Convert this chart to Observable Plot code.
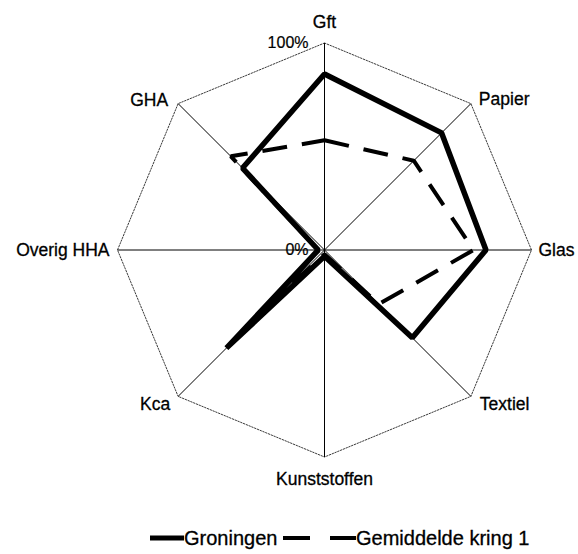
<!DOCTYPE html>
<html>
<head>
<meta charset="utf-8">
<script src="https://cdn.jsdelivr.net/npm/d3@7"></script>
<script src="https://cdn.jsdelivr.net/npm/@observablehq/plot@0.6"></script>
<style>
  html, body { margin: 0; padding: 0; background: #fff; }
  body { width: 578px; height: 554px; overflow: hidden; font-family: "Liberation Sans", Arial, sans-serif; }
  #legend { position: relative; height: 34px; }
  .item { position: absolute; top: 6px; font-size: 20px; line-height: 24px; color: #000; white-space: nowrap; -webkit-text-stroke: 0.3px #000; }
  .item svg { vertical-align: middle; position: relative; top: -2px; }
</style>
</head>
<body>
<div id="chart"></div>
<div id="legend"></div>
<script>
// ---- data ----
const categories = ["Gft", "Papier", "Glas", "Textiel", "Kunststoffen", "Kca", "Overig HHA", "GHA"];
const groningen  = [0.85, 0.80, 0.78, 0.60, 0.03, 0.67, 0.03, 0.56];
const gemiddelde = [0.53, 0.61, 0.72, 0.37, 0.02, 0.35, 0.03, 0.64];
const tickValues = [0, 1];
const tickLabels = ["0%", "100%"];
const seriesNames = ["Groningen", "Gemiddelde kring 1"];

// ---- geometry helpers ----
const n = categories.length;
const ang = i => (i / n) * 2 * Math.PI; // clockwise from top
const pt = (v, i) => ({x: v * Math.sin(ang(i)), y: v * Math.cos(ang(i)), cat: categories[i], v});
const vertices = categories.map((c, i) => pt(1, i));
const gronPts = groningen.map((v, i) => pt(v, i));
const gemPts = gemiddelde.map((v, i) => pt(v, i));
const ticks = tickValues.map((v, i) => ({v, label: tickLabels[i]}));

// label placement (layout only)
const labelLayout = {
  "Gft":          {anchor: "middle", dx: 0,   dy: -21},
  "Papier":       {anchor: "start",  dx: 8,   dy: -4},
  "Glas":         {anchor: "start",  dx: 7,   dy: 0},
  "Textiel":      {anchor: "start",  dx: 9,   dy: 8},
  "Kunststoffen": {anchor: "middle", dx: 0,   dy: 22},
  "Kca":          {anchor: "end",    dx: -8,  dy: 8},
  "Overig HHA":   {anchor: "end",    dx: -8,  dy: 0},
  "GHA":          {anchor: "end",    dx: -10, dy: -3}
};

const labelMarks = vertices.map(d => {
  const L = labelLayout[d.cat];
  return Plot.text([d], {x: "x", y: "y", text: "cat", textAnchor: L.anchor, dx: L.dx, dy: L.dy,
    fontSize: 17.5, fill: "black", stroke: "black", strokeWidth: 0.3});
});

const chart = Plot.plot({
  width: 578,
  height: 520,
  marginLeft: 117,
  marginRight: 47,
  marginTop: 42.5,
  marginBottom: 63.5,
  x: {domain: [-1, 1], axis: null},
  y: {domain: [-1, 1], axis: null},
  style: {fontFamily: "'Liberation Sans', Arial, sans-serif", background: "white", color: "black"},
  marks: [
    Plot.line(vertices, {x: "x", y: "y", curve: "linear-closed", stroke: "#222", strokeWidth: 0.9, strokeDasharray: "1.5,1.5"}),
    Plot.link(vertices, {x1: () => 0, y1: () => 0, x2: "x", y2: "y", stroke: "black", strokeWidth: 1}),
    Plot.line(gemPts, {x: "x", y: "y", curve: "linear-closed", stroke: "black", strokeWidth: 4,
      strokeDasharray: "25,15", strokeLinejoin: "miter", strokeLinecap: "butt"}),
    Plot.line(gronPts, {x: "x", y: "y", curve: "linear-closed", stroke: "black", strokeWidth: 5.5,
      strokeLinejoin: "miter", strokeLinecap: "butt"}),
    Plot.text(ticks, {x: () => 0, y: "v", text: "label", textAnchor: "end", dx: -16, fontSize: 16,
      fill: "black", stroke: "black", strokeWidth: 0.2}),
    ...labelMarks
  ]
});
document.getElementById("chart").appendChild(chart);

// ---- legend ----
const legend = document.getElementById("legend");
const it1 = document.createElement("div");
it1.className = "item";
it1.style.left = "150px";
it1.innerHTML = `<svg width="34" height="10"><line x1="0" y1="5" x2="34" y2="5" stroke="black" stroke-width="5"/></svg>${seriesNames[0]}`;
const it2 = document.createElement("div");
it2.className = "item";
it2.style.left = "283px";
it2.innerHTML = `<svg width="73" height="10"><line x1="0" y1="5" x2="73" y2="5" stroke="black" stroke-width="4" stroke-dasharray="27,20"/></svg>${seriesNames[1]}`;
legend.appendChild(it1);
legend.appendChild(it2);
</script>
</body>
</html>
